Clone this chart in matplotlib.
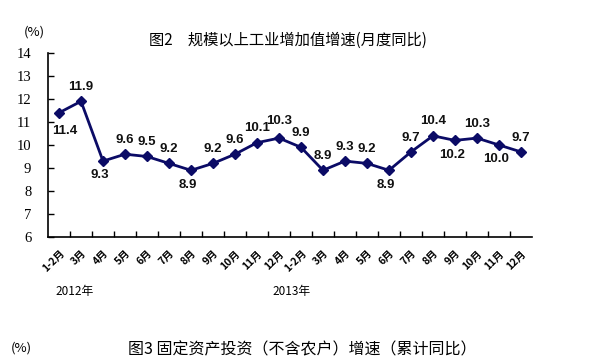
import matplotlib
matplotlib.use('Agg')
import matplotlib.pyplot as plt

plt.rcParams['font.family'] = ['Noto Sans CJK SC', 'DejaVu Sans']

months = ['1-2月', '3月', '4月', '5月', '6月', '7月', '8月', '9月', '10月', '11月', '12月',
          '1-2月', '3月', '4月', '5月', '6月', '7月', '8月', '9月', '10月', '11月', '12月']
growth = [11.4, 11.9, 9.3, 9.6, 9.5, 9.2, 8.9, 9.2, 9.6, 10.1, 10.3,
          9.9, 8.9, 9.3, 9.2, 8.9, 9.7, 10.4, 10.2, 10.3, 10.0, 9.7]
# label placement: 1 = above, -1 = below
label_side = [-1, 1, -1, 1, 1, 1, -1, 1, 1, 1, 1,
              1, 1, 1, 1, -1, 1, 1, -1, 1, -1, 1]
years = ['2012年', '2013年']

navy = '#0b0b66'

fig = plt.figure(figsize=(5.98, 3.62), dpi=100)
ax = fig.add_axes([0.0803, 0.3453, 0.8093, 0.5083])

x = list(range(len(growth)))
ax.plot(x, growth, color=navy, lw=2, marker='D', ms=5.5, mfc=navy, mec=navy)

for i, v in enumerate(growth):
    if i == 0:
        off, va = (4, -9), 'top'
    elif i == 10:
        off, va = (0, 8), 'bottom'
    elif label_side[i] > 0:
        off, va = (0, 6), 'bottom'
    else:
        off, va = (-2, -6), 'top'
    ax.annotate('%.1f' % v, (i, v), xytext=off, textcoords='offset points',
                ha='center', va=va, fontsize=9.5, fontweight='bold',
                family='Liberation Sans', color='#111111')

ax.set_xlim(-0.5, len(growth) - 0.5)
ax.set_ylim(6, 14)
ax.set_yticks(range(6, 15))
ax.set_yticklabels([str(t) for t in range(6, 15)], family='Liberation Serif', fontsize=10.5)

ax.set_xticks([i + 0.5 for i in range(len(growth) - 1)])
ax.set_xticklabels([])
ax.set_xticks(x, minor=True)
ax.set_xticklabels(months, minor=True, rotation=45, ha='right', va='top',
                   fontsize=7.5, fontweight='bold', rotation_mode='anchor')
ax.tick_params(axis='x', which='major', direction='in', length=4, width=1)
ax.tick_params(axis='x', which='minor', length=0, pad=8)
ax.tick_params(axis='y', direction='in', length=4, width=1, pad=12)

for s in ['top', 'right']:
    ax.spines[s].set_visible(False)
for s in ['left', 'bottom']:
    ax.spines[s].set_linewidth(1.2)

fig.text(0.482, 0.888, '图2　规模以上工业增加值增速(月度同比)', ha='center', va='center', fontsize=11)
fig.text(0.058, 0.912, '(%)', ha='center', va='center', fontsize=9.5)
fig.text(0.125, 0.195, years[0], ha='center', va='center', fontsize=8.5)
fig.text(0.488, 0.195, years[1], ha='center', va='center', fontsize=8.5)

fig.text(0.035, 0.038, '(%)', ha='center', va='center', fontsize=9.5)
fig.text(0.505, 0.033, '图3 固定资产投资（不含农户）增速（累计同比）', ha='center', va='center', fontsize=11.5)

fig.savefig('out.png', dpi=100)
